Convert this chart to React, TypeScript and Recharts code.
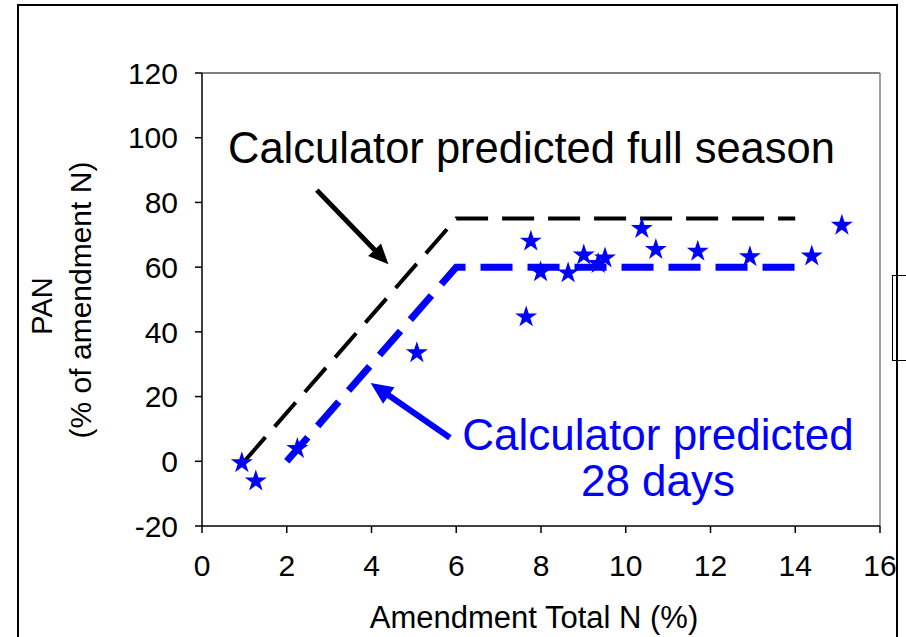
import { ComposedChart, Line, Scatter, XAxis, YAxis, ZAxis, ReferenceLine } from 'recharts';

// measured samples
const amendN = [0.94, 1.27, 2.25, 5.07, 7.65, 7.76, 7.99, 8.64, 9.01, 9.35, 9.51, 10.38, 10.71, 11.7, 12.93, 14.39, 15.1];
const panPct = [-0.5, -6.1, 3.9, 33.5, 44.6, 68.0, 58.5, 58.2, 63.7, 61.1, 62.8, 71.9, 65.4, 64.9, 63.2, 63.4, 72.9];

// calculator predictions
const seasonX = [1, 6, 14];
const seasonY = [0, 75, 75];
const days28X = [2, 6, 14];
const days28Y = [0, 60, 60];

const xTicks = [0, 2, 4, 6, 8, 10, 12, 14, 16];
const yTicks = [-20, 0, 20, 40, 60, 80, 100, 120];

// annotation arrows, tail -> tip, in data units
const seasonArrow = [{ x: 2.71, y: 83.8 }, { x: 4.4, y: 60.9 }];
const days28Arrow = [{ x: 5.85, y: 7.3 }, { x: 3.98, y: 24.2 }];

const points = amendN.map((x, i) => ({ x, y: panPct[i] }));
const seasonLine = seasonX.map((x, i) => ({ x, y: seasonY[i] }));
const days28Line = days28X.map((x, i) => ({ x, y: days28Y[i] }));

const FONT = '"Liberation Sans", Arial, sans-serif';
const BLUE = '#0000FF';

const arrowShape = (color: string, w: number, len: number, half: number) => (p: any) => {
  const { x1, y1, x2, y2 } = p;
  const dx = x2 - x1;
  const dy = y2 - y1;
  const d = Math.sqrt(dx * dx + dy * dy) || 1;
  const ux = dx / d;
  const uy = dy / d;
  const bx = x2 - ux * len;
  const by = y2 - uy * len;
  const head = `${x2},${y2} ${bx - uy * half},${by + ux * half} ${bx + uy * half},${by - ux * half}`;
  return (
    <g>
      <line x1={x1} y1={y1} x2={bx + ux * 2} y2={by + uy * 2} stroke={color} strokeWidth={w} />
      <polygon points={head} fill={color} />
    </g>
  );
};

const tickStyle = { fontSize: 30, fill: '#000', fontFamily: FONT };

export default function App() {
  return (
    <div style={{ position: 'absolute', left: 0, top: 0, width: 906, height: 637, overflow: 'hidden', background: '#fff' }}>
      <div style={{ position: 'absolute', left: 17, top: 4, width: 881, height: 660, border: '2px solid #000', boxSizing: 'border-box' }} />
      <div style={{ position: 'absolute', left: 892, top: 275, width: 20, height: 86, border: '1.5px solid #000', boxSizing: 'border-box' }} />
      <ComposedChart width={906} height={637} margin={{ top: 73, right: 26, left: 142, bottom: 51 }} style={{ position: 'absolute', left: 0, top: 0 }}>
        <XAxis
          type="number"
          dataKey="x"
          domain={[0, 16]}
          ticks={xTicks}
          allowDataOverflow
          height={60}
          tickSize={7}
          tickMargin={22}
          tick={tickStyle}
          axisLine={{ stroke: '#000', strokeWidth: 1.5 }}
          tickLine={{ stroke: '#000', strokeWidth: 1.5 }}
        />
        <YAxis
          type="number"
          dataKey="y"
          domain={[-20, 120]}
          ticks={yTicks}
          allowDataOverflow
          width={60}
          tickSize={7}
          tickMargin={17}
          tick={tickStyle}
          axisLine={{ stroke: '#000', strokeWidth: 1.5 }}
          tickLine={{ stroke: '#000', strokeWidth: 1.5 }}
        />
        <ZAxis range={[150, 150]} />
        <ReferenceLine y={120} stroke="#808080" strokeWidth={2} />
        <ReferenceLine x={16} stroke="#808080" strokeWidth={1.5} />
        <Line
          data={seasonLine}
          dataKey="y"
          type="linear"
          stroke="#000"
          strokeWidth={4}
          strokeDasharray="32 14"
          dot={false}
          isAnimationActive={false}
        />
        <Line
          data={days28Line}
          dataKey="y"
          type="linear"
          stroke={BLUE}
          strokeWidth={7}
          strokeDasharray="32 15"
          dot={false}
          isAnimationActive={false}
        />
        <Scatter data={points} shape="star" fill={BLUE} isAnimationActive={false} />
        <ReferenceLine segment={seasonArrow} shape={arrowShape('#000', 5, 20, 9)} />
        <ReferenceLine segment={days28Arrow} shape={arrowShape(BLUE, 6, 22, 10)} />
      </ComposedChart>
      <svg width={906} height={637} style={{ position: 'absolute', left: 0, top: 0, pointerEvents: 'none' }} fontFamily={FONT}>
        <text x={228} y={163} fontSize={43.5} fill="#000">Calculator predicted full season</text>
        <text x={658} y={450} fontSize={44} fill={BLUE} textAnchor="middle">Calculator predicted</text>
        <text x={658} y={496} fontSize={44} fill={BLUE} textAnchor="middle">28 days</text>
        <text x={534} y={628} fontSize={31} fill="#000" textAnchor="middle">Amendment Total N (%)</text>
        <text transform="translate(52,306) rotate(-90)" fontSize={29} fill="#000" textAnchor="middle">PAN</text>
        <text transform="translate(91,300) rotate(-90)" fontSize={30} fill="#000" textAnchor="middle">(% of amendment N)</text>
      </svg>
    </div>
  );
}
